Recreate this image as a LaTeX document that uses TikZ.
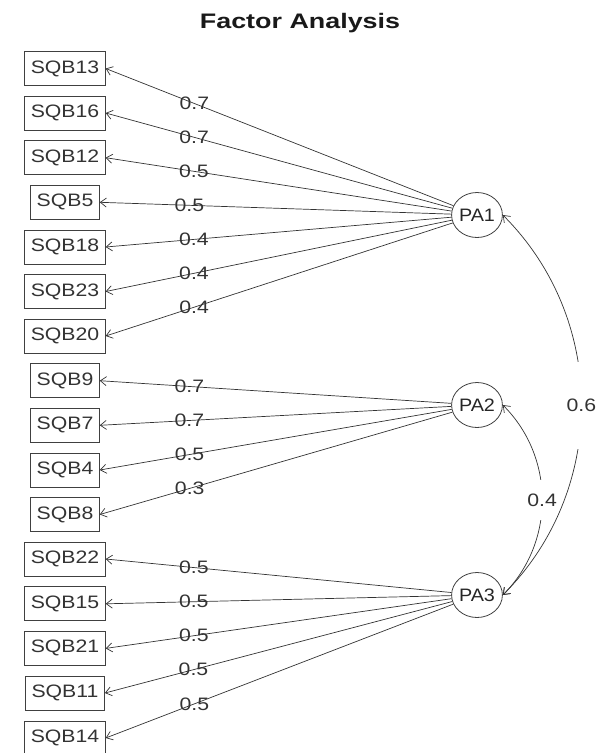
\documentclass[tikz,border=0pt]{standalone}
\usepackage{fontspec}
\setmainfont{Liberation Sans}
\usetikzlibrary{arrows.meta,shapes.geometric}
% item labels and weights are set slightly wide
\newcommand{\widetxt}[1]{\scalebox{1.18}[1]{#1}}

\begin{document}
\begin{tikzpicture}[x=1pt,y=-1pt,
  item/.style={draw=black!75, line width=0.9pt, rectangle, minimum height=34pt,
    inner xsep=6pt, font=\fontsize{18}{20}\selectfont, text=black!80},
  factor/.style={draw=black!75, line width=0.8pt, ellipse, minimum width=47pt,
    minimum height=45pt, inner sep=0pt, font=\fontsize{18}{20}\selectfont, text=black!85},
  load/.style={draw=black!80, line width=0.7pt, -{Straight Barb[length=6pt,width=9pt]}},
  wt/.style={pos=0.745, font=\fontsize{18}{20}\selectfont, text=black!80, inner sep=0pt},
  corr/.style={draw=black!80, line width=0.7pt,
    {Straight Barb[length=6pt,width=9pt]}-{Straight Barb[length=6pt,width=9pt]}},
  gaplabel/.style={midway, fill=white, inner sep=0pt, minimum width=32pt,
    font=\fontsize{18}{20}\selectfont, text=black!80},
]
\useasboundingbox (0,0) rectangle (595,753);

% title
\node[anchor=base, font=\bfseries\fontsize{21}{24}\selectfont, text=black!90] (title)
  at (300,28) {\scalebox{1.28}[1]{Factor Analysis}};

% factors
\node[factor] (PA1) at (477,215) {\scalebox{1.1}[1]{PA1}};
\node[factor] (PA2) at (477,405) {\scalebox{1.1}[1]{PA2}};
\node[factor] (PA3) at (477,595) {\scalebox{1.1}[1]{PA3}};

% items with their loadings
\foreach \n/\y/\w/\f in {
  SQB13/68.5/0.7/PA1, SQB16/113/0.7/PA1, SQB12/157.7/0.5/PA1, SQB5/202.3/0.5/PA1,
  SQB18/247/0.4/PA1, SQB23/291.5/0.4/PA1, SQB20/336/0.4/PA1,
  SQB9/380.7/0.7/PA2, SQB7/425.3/0.7/PA2, SQB4/470/0.5/PA2, SQB8/514.5/0.3/PA2,
  SQB22/559/0.5/PA3, SQB15/603.8/0.5/PA3, SQB21/648.4/0.5/PA3,
  SQB11/693/0.5/PA3, SQB14/738/0.5/PA3} {
  \node[item] (\n) at (65,\y) {\widetxt{\n}};
  \draw[load] (\f) -- (\n.east) node[wt] {\widetxt{\w}};
}

% factor correlations
\draw[corr] (PA2.east) to[out=-45,in=45]
  node[gaplabel, minimum height=40pt] (r23) {\widetxt{0.4}} (PA3.east);
\draw[corr] (PA1.east) to[out=-45,in=45]
  node[gaplabel, minimum height=87pt] (r13) {\widetxt{0.6}} (PA3.east);
\end{tikzpicture}
\end{document}
